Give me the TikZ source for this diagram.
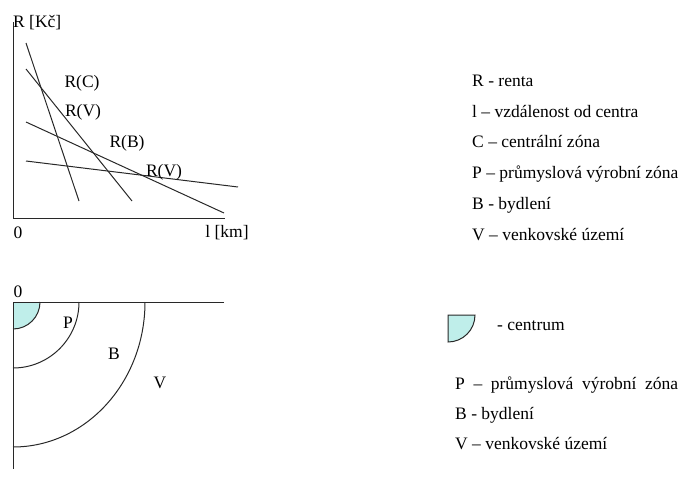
\documentclass[tikz,border=0pt]{standalone}
\usepackage{fontspec}
\setmainfont{Liberation Serif}
\usepackage{tikz}
\usetikzlibrary{positioning}
\definecolor{centrumfill}{RGB}{191,238,234}
\definecolor{linegray}{RGB}{40,40,40}

\begin{document}
\begin{tikzpicture}[
  x=1pt, y=1pt,
  font=\fontsize{17.5}{21}\selectfont,
  lbl/.style={inner sep=0pt, anchor=base west},
  mid/.style={inner sep=0pt},
  crv/.style={draw=linegray, line width=1pt},
  ax/.style={draw=linegray, line width=1pt}
]
\useasboundingbox (0,0) rectangle (681,-477);
% rent graph
\draw[ax] (13,-22) -- (13,-218) -- (225,-218);
\draw[crv] (26,-43)  -- (79,-201);
\draw[crv] (26,-69)  -- (132,-201);
\draw[crv] (26,-122) -- (224,-213);
\draw[crv] (26,-161) -- (238,-187);
\node[lbl] (ylab) at (13,-27) {R [Kč]};
\node[mid] (orig) at (18,-233) {0};
\node[mid] (xlab) at (227,-233) {l [km]};
\node[mid] (rc)  at (82,-83)  {R(C)};
\node[mid] (rv1) at (83,-112) {R(V)};
\node[mid] (rb)  at (127,-143) {R(B)};
\node[mid] (rv2) at (164,-172) {R(V)};
% legend, top
\node[lbl] (lr) at (472,-86)  {R - renta};
\node[lbl] (ll) at (472,-117) {l – vzdálenost od centra};
\node[lbl] (lc) at (472,-147) {C – centrální zóna};
\node[lbl] (lp) at (472,-178) {P – průmyslová výrobní zóna};
\node[lbl] (lb) at (472,-209) {B - bydlení};
\node[lbl] (lv) at (472,-240) {V – venkovské území};
% zones
\fill[centrumfill] (13,-302) -- (40,-302) arc[start angle=0, end angle=-90, radius=27] -- cycle;
\draw[crv] (40,-302) arc[start angle=0, end angle=-90, radius=27];
\draw[crv] (79,-302) arc[start angle=0, end angle=-90, radius=66];
\draw[crv] (145,-302) arc[start angle=0, end angle=-90, x radius=132, y radius=145];
\draw[ax] (224,-302) -- (13,-302) -- (13,-469);
\node[mid] (zorig) at (18,-292) {0};
\node[mid] (zp) at (68,-323)  {P};
\node[mid] (zb) at (114,-354) {B};
\node[mid] (zv) at (160,-383) {V};
% legend, bottom
\draw[crv, fill=centrumfill] (448,-315) -- (475,-315) arc[start angle=0, end angle=-90, radius=27] -- cycle;
\node[lbl] (lcen) at (497,-330) {- centrum};
\node[lbl] (lp2) at (455,-389) {\spaceskip=8.6pt P – průmyslová výrobní zóna};
\node[lbl] (lb2) at (455,-419) {B - bydlení};
\node[lbl] (lv2) at (455,-449) {V – venkovské území};
\end{tikzpicture}
\end{document}
